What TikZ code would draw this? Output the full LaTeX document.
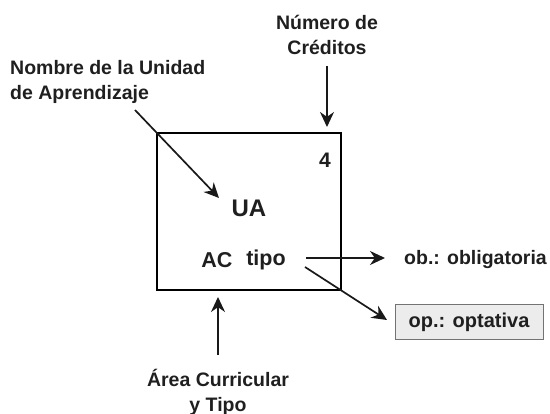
\documentclass[tikz,border=0pt]{standalone}
\usepackage{fontspec}
\setmainfont{Liberation Sans}
\usetikzlibrary{arrows.meta}
\begin{document}
\begin{tikzpicture}[x=1pt,y=-1pt,
  lbl/.style={font=\bfseries\fontsize{19.5}{25}\selectfont, inner sep=0pt, align=center, text=black!88},
  big/.style={font=\bfseries\fontsize{24}{28}\selectfont, inner sep=0pt, text=black!88},
  mid/.style={font=\bfseries\fontsize{21.5}{24}\selectfont, inner sep=0pt, text=black!88},
  arr/.style={-{Stealth[length=15pt,width=14pt]}, line width=1.7pt, black!90},
]
\useasboundingbox (0,0) rectangle (550,414);
% main box
\node[draw, line width=2.2pt, minimum width=184pt, minimum height=157pt, inner sep=0pt] (box) at (249,211.5) {};
% labels
\node[lbl] (num) at (327,35) {Número de\\Créditos};
\node[lbl, align=left, anchor=north west] (nom) at (10,60) {Nombre de la Unidad\\de Aprendizaje};
\node[lbl, font=\bfseries\fontsize{21}{24}\selectfont] (four) at (325,160) {4};
\node[big] (ua) at (249,208) {UA};
\node[mid] (ac) at (217,260) {AC};
\node[mid] (tipo) at (266,260) {tipo};
\node[lbl, anchor=east] (ob) at (547,260) {ob.: obligatoria};
\node[lbl, font=\bfseries\fontsize{20}{24}\selectfont, draw=black!55, line width=0.8pt, fill=gray!15, minimum width=148pt, minimum height=35pt] (op) at (469,322) {op.: optativa};
\node[lbl] (area) at (218,392) {Área Curricular\\y Tipo};
% connectors
\coordinate (numtail) at (327,66);
\coordinate (numtip) at (327,127);
\draw[arr] (numtail) -- (numtip);
\coordinate (nomtail) at (135,110);
\coordinate (nomtip) at (219,198);
\draw[arr] (nomtail) -- (nomtip);
\coordinate (obtail) at (306,258);
\coordinate (obtip) at (385,258);
\draw[arr] (obtail) -- (obtip);
\coordinate (optail) at (305,267);
\coordinate (optip) at (387,320);
\draw[arr] (optail) -- (optip);
\coordinate (areatail) at (218,355);
\coordinate (areatip) at (218,297);
\draw[arr] (areatail) -- (areatip);
\end{tikzpicture}
\end{document}
